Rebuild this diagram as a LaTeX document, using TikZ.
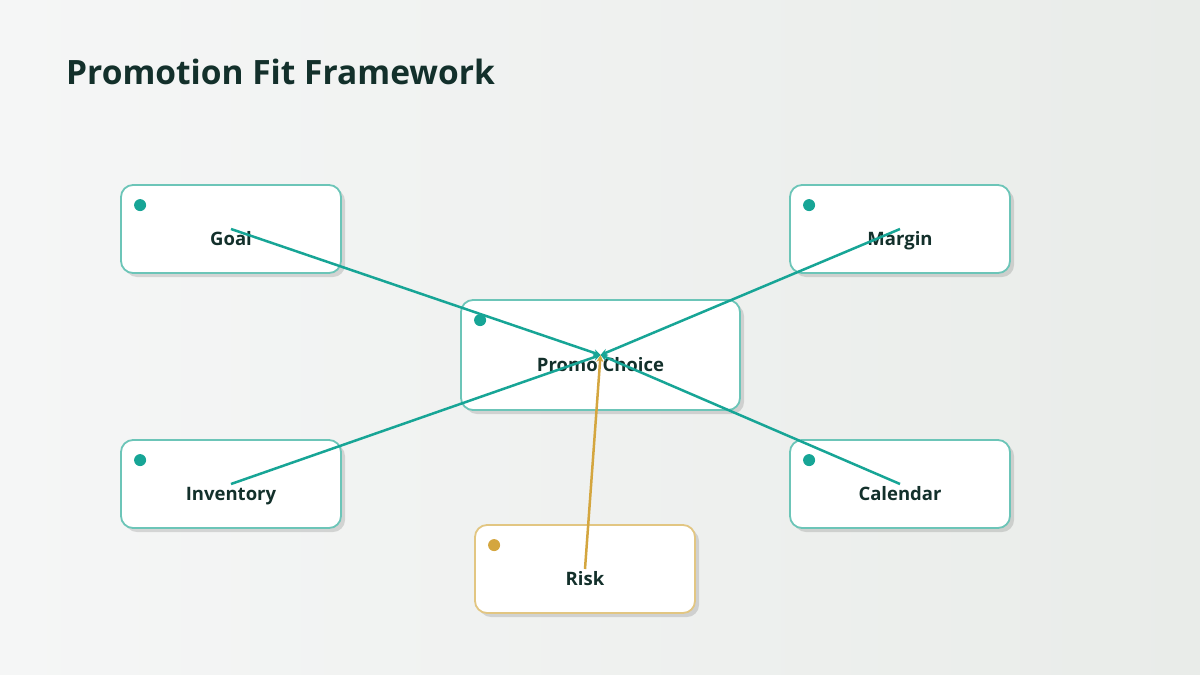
\documentclass[tikz,border=0pt]{standalone}
\usepackage{fontspec}
\setmainfont{Open Sans}
\usetikzlibrary{shadows,arrows.meta}
\definecolor{bgA}{HTML}{F5F6F6}
\definecolor{bgB}{HTML}{E9ECE9}
\definecolor{teal}{HTML}{17A596}
\definecolor{tealb}{HTML}{6CC5B8}
\definecolor{gold}{HTML}{D4A63F}
\definecolor{goldb}{HTML}{E2C682}
\definecolor{ink}{HTML}{13302B}
\tikzset{
  card/.style={draw=#1, line width=1.8pt, fill=white, rounded corners=12pt,
    minimum width=220pt, minimum height=88pt, inner sep=0pt,
    drop shadow={shadow xshift=4pt, shadow yshift=-4pt, fill=black, opacity=0.13}},
  dot/.style={circle, fill=#1, inner sep=0pt, minimum size=12pt},
  lbl/.style={anchor=base, text=ink, font=\bfseries\fontsize{18.5}{22}\selectfont, inner sep=0pt},
  link/.style={draw=#1, line width=2.5pt, -{Stealth[length=7pt,width=7pt]}},
}
\begin{document}
\begin{tikzpicture}[x=1pt,y=-1pt]
\useasboundingbox (0,0) rectangle (1200,675);
\shade[left color=bgA, right color=bgB] (0,0) rectangle (1200,675);
\node[anchor=base west, text=ink, font=\bfseries\fontsize{33.5}{38}\selectfont, inner sep=0pt] (title) at (66,84) {Promotion Fit Framework};

\node[card=tealb] (goal) at (231,229) {};
\node[card=tealb] (margin) at (900,229) {};
\node[card=tealb, minimum width=279pt, minimum height=110pt] (promo) at (600.5,355) {};
\node[card=tealb] (inv) at (231,484) {};
\node[card=tealb] (cal) at (900,484) {};
\node[card=goldb] (risk) at (585,569) {};

\foreach \n/\c in {goal/teal,margin/teal,promo/teal,inv/teal,cal/teal,risk/gold}{
  \node[dot=\c] (\n-dot) at ([xshift=20pt,yshift=-21pt]\n.north west) {};
}

\node[lbl] (goal-t) at ([yshift=-16.5pt]goal.center) {Goal};
\node[lbl] (margin-t) at ([yshift=-16.5pt]margin.center) {Margin};
\node[lbl] (promo-t) at ([yshift=-16.5pt]promo.center) {Promo Choice};
\node[lbl] (inv-t) at ([yshift=-16.5pt]inv.center) {Inventory};
\node[lbl] (cal-t) at ([yshift=-16.5pt]cal.center) {Calendar};
\node[lbl] (risk-t) at ([yshift=-16.5pt]risk.center) {Risk};

\draw[link=teal] (goal.center) -- (promo.center);
\draw[link=teal] (margin.center) -- (promo.center);
\draw[link=teal] (inv.center) -- (promo.center);
\draw[link=teal] (cal.center) -- (promo.center);
\draw[link=gold] (risk.center) -- (promo.center);
\end{tikzpicture}
\end{document}
